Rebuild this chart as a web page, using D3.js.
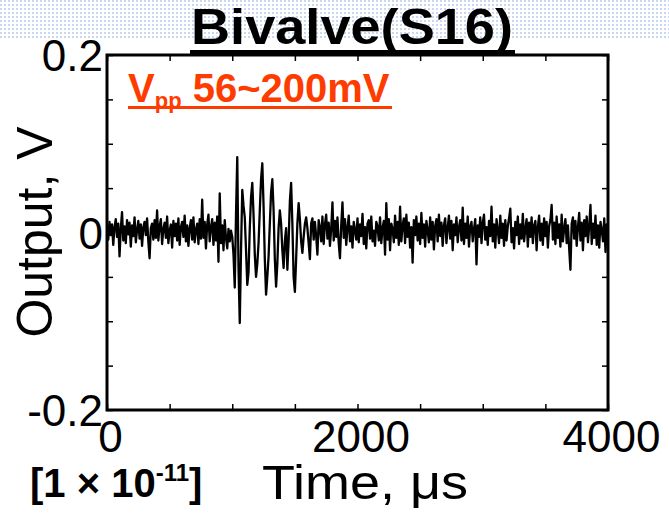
<!DOCTYPE html>
<html>
<head>
<meta charset="utf-8">
<script src="https://cdn.jsdelivr.net/npm/d3@7"></script>
<style>
  body { margin: 0; background: #fff; }
  svg { display: block; font-family: "Liberation Sans", Arial, sans-serif; }
</style>
</head>
<body>
<svg id="chart" width="669" height="513"></svg>
<script>
// output voltage in mV, one sample every 10 us (0 .. 4000 us)
var preBurst = [
  5, -8, 12, -3, 9, -14, 6, 15, -5, 10, -27, 4, 23, -9, 7, -12, 14, -2, 11, -16,
  8, -4, 17, -11, 3, 13, -7, 9, -15, 6, 12, -3, 16, -10, -29, 5, 10, -8, 14, -6,
  25, -9, 7, 15, -13, 4, 11, -6, 18, -12, 2, 9, -17, 13, -4, 10, -9, 16, -14, 6,
  12, -5, 19, -10, 8, -15, 5, 14, -8, 17, -11, 3, 10, -13, 15, -7, 37, -6, 12, -18,
  9, 20, -10, 6, 15, -14, 11, -9, 18, -33, 44, -12, 8, -20, 14, -6, -18, 4, -10, 2
];
var burst = [
  -5, -25, -62, 20, 85, -40, -102, -20, 48, 30, 17, -20, -59, -45, 5, 40, 56, 20, -25, -50,
  -35, -12, 25, 60, 78, 30, -30, -70, -50, -27, 10, 45, 60, 25, -30, -61, -35, 5, 25, 10,
  -20, -40, -10, 5, -42, -10, 35, 56, 10, -50, -67, -30, 10, 33, 15, -10, -23, -5, 10, 17,
  5
];
var postBurst = [
  -12, -30, 10, 16, -8, 12, -4, -25, 14, 6, -10, 18, -13, 9, 20, -7, 11, -15, 4,
  34, -9, 13, -5, 17, -12, -29, 8, 34, -6, 15, -14, 5, 19, -10, 7, -17, 12, 3, -8,
  16, -11, 9, -4, 21, -13, 6, -18, 10, 14, -7, 18, -10, 2, -15, 12, 7, -9, 17, -12,
  5, 13, -25, 33, -8, 15, -20, 10, 4, -11, 19, -6, 12, -14, 29, -10, 8, 16, -12, 20,
  -5, 11, -17, 6, -34, 14, -3, 18, -9, 10, -13, 22, -6, 9, -16, 13, 3, -11, 17, -8,
  12, -19, 7, 15, -10, 20, -4, 11, -15, 8, 16, -12, 5, 19, -7, 13, -20, 9, -3, 17,
  -11, 6, 14, -9, 28, -13, 10, -6, 18, -16, 7, 12, -10, 4, 15, -36, 8, -5, 17, -12,
  11, 20, -8, 6, -14, 13, -4, 29, -10, 9, -17, 15, 3, -12, 19, -6, 10, -15, 14, -9,
  7, 16, 27, -11, 5, -18, 12, -3, 18, -13, 9, -7, 21, -10, 4, 15, -16, 11, -5, 17,
  -12, 8, 13, -20, 6, 19, -9, 10, -14, 16, -4, 12, -17, 7, 14, 31, -8, 11, -13, 18,
  -6, 9, -16, 20, -10, 5, 15, -12, 8, -18, -42, 10, 17, -7, 13, -15, 6, 22, -9, 11,
  -20, 14, -4, 18, -11, 7, 31, -13, 10, -6, 19, -14, 8, -17, 12, 3, -10, 16, -22, 9,
  5
];
var outputMv = preBurst.concat(burst, postBurst);
var sampleStep = 10;

var timeTicks = [0, 500, 1000, 1500, 2000, 2500, 3000, 3500, 4000];
var timeLabels = [0, 2000, 4000];
var voltTicks = [-0.2, -0.15, -0.1, -0.05, 0, 0.05, 0.1, 0.15, 0.2];
var voltLabels = [-0.2, 0, 0.2];

var svg = d3.select("#chart");
var plotLeft = 107, plotRight = 608, plotTop = 55, plotBottom = 410;

// dotted header band
var defs = svg.append("defs");
defs.append("pattern")
  .attr("id", "dots")
  .attr("width", 4).attr("height", 4)
  .attr("patternUnits", "userSpaceOnUse")
  .append("rect")
    .attr("width", 2).attr("height", 2)
    .attr("fill", "#c9d8f0");
svg.append("rect")
  .attr("x", 0).attr("y", 0)
  .attr("width", 669).attr("height", 40)
  .attr("fill", "url(#dots)");

var x = d3.scaleLinear().domain([0, 4000]).range([plotLeft, plotRight]);
var y = d3.scaleLinear().domain([-0.2, 0.2]).range([plotBottom, plotTop]);

// trace
var line = d3.line()
  .x(function (d, i) { return x(i * sampleStep); })
  .y(function (d) { return y(d / 1000); });

svg.append("path")
  .datum(outputMv)
  .attr("d", line)
  .attr("fill", "none")
  .attr("stroke", "#000")
  .attr("stroke-width", 2.3)
  .attr("stroke-linejoin", "round");

// axes, ticks pointing in
function fmtVolt(d) { return voltLabels.indexOf(d) >= 0 ? String(d) : ""; }
function fmtTime(d) { return timeLabels.indexOf(d) >= 0 ? String(d) : ""; }

var gl = svg.append("g").attr("transform", "translate(" + plotLeft + ",0)")
  .call(d3.axisLeft(y).tickValues(voltTicks).tickSizeInner(-6).tickSizeOuter(0).tickPadding(4).tickFormat(fmtVolt));
var gr = svg.append("g").attr("transform", "translate(" + plotRight + ",0)")
  .call(d3.axisRight(y).tickValues(voltTicks).tickSizeInner(-6).tickSizeOuter(0).tickFormat(""));
var gb = svg.append("g").attr("transform", "translate(0," + plotBottom + ")")
  .call(d3.axisBottom(x).tickValues(timeTicks).tickSizeInner(-6).tickSizeOuter(0).tickPadding(10).tickFormat(fmtTime));
var gt = svg.append("g").attr("transform", "translate(0," + plotTop + ")")
  .call(d3.axisTop(x).tickValues(timeTicks).tickSizeInner(-6).tickSizeOuter(0).tickFormat(""));

[gl, gr, gb, gt].forEach(function (g) {
  g.select(".domain").remove();
  g.selectAll(".tick line").attr("stroke", "#000").attr("stroke-width", 1.5);
  g.selectAll("text").attr("fill", "#000").style("font-family", "'Liberation Sans', Arial, sans-serif");
});
gl.selectAll("text").style("font-size", "44px").attr("dy", "0.36em").attr("x", -4);
gb.selectAll("text").style("font-size", "44px").attr("dy", "0.72em").attr("dx", 3);

svg.append("rect")
  .attr("x", plotLeft).attr("y", plotTop)
  .attr("width", plotRight - plotLeft).attr("height", plotBottom - plotTop)
  .attr("fill", "none")
  .attr("stroke", "#000")
  .attr("stroke-width", 3);

// title
svg.append("text")
  .attr("x", 352).attr("y", 44)
  .attr("text-anchor", "middle")
  .attr("textLength", 322)
  .attr("lengthAdjust", "spacingAndGlyphs")
  .style("font-size", "50px").style("font-weight", "bold")
  .text("Bivalve(S16)");
svg.append("rect")
  .attr("x", 190).attr("y", 50).attr("width", 325).attr("height", 4)
  .attr("fill", "#000");

// Vpp annotation
var red = "#ff3c00";
var vpp = svg.append("text")
  .attr("x", 128).attr("y", 102)
  .attr("fill", red)
  .style("font-size", "40px").style("font-weight", "bold");
vpp.append("tspan").text("V");
vpp.append("tspan").attr("dy", 6).style("font-size", "22px").text("pp");
vpp.append("tspan").attr("dy", -6).text(" 56~200mV");
svg.append("rect")
  .attr("x", 128).attr("y", 106).attr("width", 264).attr("height", 3)
  .attr("fill", red);

// axis titles
svg.append("text")
  .attr("transform", "translate(52,232) rotate(-90)")
  .attr("text-anchor", "middle")
  .style("font-size", "50px")
  .text("Output, V");

svg.append("text")
  .attr("x", 262).attr("y", 499)
  .attr("textLength", 206)
  .attr("lengthAdjust", "spacingAndGlyphs")
  .style("font-size", "48px")
  .text("Time, \u03bcs");

var mult = svg.append("text")
  .attr("x", 30).attr("y", 497)
  .style("font-size", "40px").style("font-weight", "bold");
mult.append("tspan").text("[1 \u00d7 10");
mult.append("tspan").attr("dy", -16).style("font-size", "24px").text("-11");
mult.append("tspan").attr("dy", 16).text("]");
</script>
</body>
</html>
